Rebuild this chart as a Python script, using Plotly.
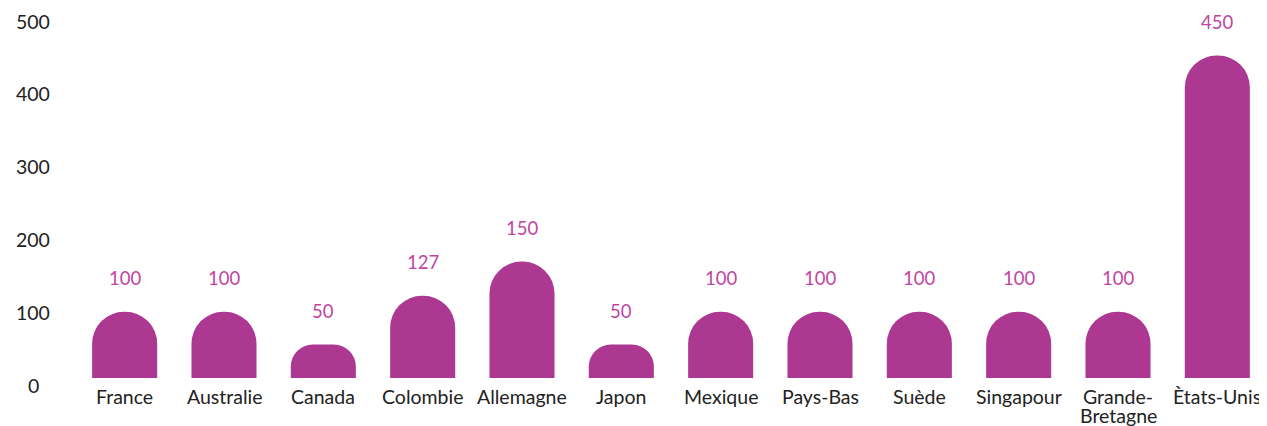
import plotly.graph_objects as go

categories = ["France", "Australie", "Canada", "Colombie", "Allemagne", "Japon",
              "Mexique", "Pays-Bas", "Suède", "Singapour", "Grande-Bretagne", "Ètats-Unis"]
category_lines = [["France"], ["Australie"], ["Canada"], ["Colombie"], ["Allemagne"], ["Japon"],
                  ["Mexique"], ["Pays-Bas"], ["Suède"], ["Singapour"], ["Grande-", "Bretagne"],
                  ["Ètats-Unis"]]
bar_heights = [91, 91, 46, 113, 160, 46, 91, 91, 91, 91, 91, 443]
value_labels = ["100", "100", "50", "127", "150", "50", "100", "100", "100", "100", "100", "450"]
y_ticks = [0, 100, 200, 300, 400, 500]

BAR = "#ad3891"
LABEL = "#c045a2"
TEXT = "#222222"
FONT = "Lato"

tall = [(c, h) for c, h in zip(categories, bar_heights) if h >= 60]
short = [(c, h) for c, h in zip(categories, bar_heights) if h < 60]

fig = go.Figure()
fig.add_trace(go.Bar(x=[c for c, _ in tall], y=[h for _, h in tall],
                     marker=dict(color=BAR, line=dict(width=0), cornerradius="50%"),
                     hoverinfo="skip"))
fig.add_trace(go.Bar(x=[c for c, _ in short], y=[h for _, h in short],
                     marker=dict(color=BAR, line=dict(width=0), cornerradius=22),
                     hoverinfo="skip"))

annotations = []
for c, h, t in zip(categories, bar_heights, value_labels):
    annotations.append(dict(x=c, y=h, text=t, showarrow=False, xref="x", yref="y",
                            yanchor="middle", yshift=34,
                            font=dict(family=FONT, size=18.5, color=LABEL)))
for c, lines in zip(categories, category_lines):
    for i, line in enumerate(lines):
        annotations.append(dict(x=c, y=0, text=line, showarrow=False, xref="x", yref="y",
                                xanchor="center", yanchor="middle", yshift=-18 - 19 * i,
                                font=dict(family=FONT, size=19.5, color=TEXT)))
for v in y_ticks:
    annotations.append(dict(x=0, y=v, text=str(v), showarrow=False, xref="paper", yref="y",
                            xanchor="center", yanchor="middle", xshift=-42, yshift=-7,
                            font=dict(family=FONT, size=19.5, color=TEXT)))

fig.update_layout(
    width=1259, height=418,
    margin=dict(l=67, r=0, t=6, b=48),
    paper_bgcolor="white", plot_bgcolor="white",
    barmode="overlay",
    bargap=0.345,
    showlegend=False,
    annotations=annotations,
    font=dict(family=FONT, color=TEXT),
    xaxis=dict(categoryorder="array", categoryarray=categories, showgrid=False,
               zeroline=False, showline=False, showticklabels=False, ticks=""),
    yaxis=dict(range=[0, 500], showgrid=False, zeroline=False, showline=False,
               showticklabels=False, ticks=""),
)

fig.write_html("out.html", config={"displayModeBar": False})
